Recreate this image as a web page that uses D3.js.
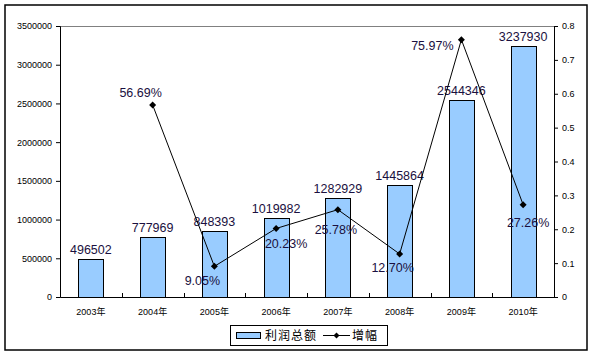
<!DOCTYPE html>
<html><head><meta charset="utf-8">
<script src="https://cdn.jsdelivr.net/npm/d3@7"></script>
<style>body{margin:0;background:#fff}svg{display:block}</style>
</head><body>
<script>
const years = ["2003年","2004年","2005年","2006年","2007年","2008年","2009年","2010年"];
const profit = [496502, 777969, 848393, 1019982, 1282929, 1445864, 2544346, 3237930];
const growth = [null, 0.5669, 0.0905, 0.2023, 0.2578, 0.1270, 0.7597, 0.2726];
const growthLabels = [null, "56.69%", "9.05%", "20.23%", "25.78%", "12.70%", "75.97%", "27.26%"];
const leftTicks = [0, 500000, 1000000, 1500000, 2000000, 2500000, 3000000, 3500000];
const rightTicks = [0, 0.1, 0.2, 0.3, 0.4, 0.5, 0.6, 0.7, 0.8];
const legendNames = ["利润总额", "增幅"];

// layout constants for percent label placement (dx from point to label centre, dy to baseline)
const pctOffsets = [null, [-12,-8], [-12,19], [10,20], [-2,24], [-7,18], [-29,10], [5,22]];

const W = 594, H = 357;
const svg = d3.select("body").append("svg").attr("width", W).attr("height", H);
const font = "'Liberation Sans', Arial, sans-serif";
const cjk = "'Liberation Sans', 'Noto Sans CJK SC', sans-serif";

svg.append("rect").attr("x",5).attr("y",5).attr("width",582).attr("height",345)
  .attr("fill","#fff").attr("stroke","#000").attr("stroke-width",1.5);

const L = 60, R = 554, T = 26, B = 297;
const x = d3.scaleBand().domain(years).range([L, R]).paddingInner(0).paddingOuter(0);
const y = d3.scaleLinear().domain([0, 3500000]).range([B, T]);
const y2 = d3.scaleLinear().domain([0, 0.8]).range([B, T]);

// top border of plot
svg.append("line").attr("x1",L).attr("x2",R).attr("y1",T+0.5).attr("y2",T+0.5).attr("stroke","#808080");

// bars
const bw = x.bandwidth()*0.405;
svg.append("g").selectAll("rect").data(profit).join("rect")
  .attr("x",(d,i)=>Math.round(x(years[i])+x.bandwidth()/2-bw/2)+0.5)
  .attr("y",d=>Math.round(y(d))+0.5)
  .attr("width",Math.round(bw))
  .attr("height",d=>B-Math.round(y(d)))
  .attr("fill","#99CCFF").attr("stroke","#000").attr("stroke-width",1);

// left axis
const gl = svg.append("g").attr("transform",`translate(${L},0)`)
  .call(d3.axisLeft(y).tickValues(leftTicks).tickFormat(d3.format("d")).tickSizeOuter(0).tickSize(4).tickPadding(4));
gl.select(".domain").attr("stroke","#000");
gl.selectAll("text").attr("font-family",font).attr("font-size",9).attr("fill","#000");

// right axis
const gr = svg.append("g").attr("transform",`translate(${R},0)`)
  .call(d3.axisRight(y2).tickValues(rightTicks).tickFormat(d=>d===0?"0":d3.format(".1f")(d)).tickSizeOuter(0).tickSize(4).tickPadding(4));
gr.selectAll("text").attr("font-family",font).attr("font-size",9).attr("fill","#000");

// bottom axis
const gb = svg.append("g").attr("transform",`translate(0,${B})`)
  .call(d3.axisBottom(x).tickSize(0).tickPadding(12));
gb.select(".domain").attr("stroke","#000");
gb.selectAll("text").attr("font-family",cjk).attr("font-size",9).attr("fill","#000");
// category boundary ticks (inside)
svg.append("g").selectAll("line").data(years.slice(1)).join("line")
  .attr("x1",d=>Math.round(x(d))+0.5).attr("x2",d=>Math.round(x(d))+0.5)
  .attr("y1",B).attr("y2",B-4).attr("stroke","#000");

// value labels
svg.append("g").selectAll("text").data(profit).join("text")
  .attr("x",(d,i)=>x(years[i])+x.bandwidth()/2)
  .attr("y",d=>y(d)-5)
  .attr("text-anchor","middle").attr("font-family",font).attr("font-size",12.5)
  .attr("fill","#1a1040").text(d=>d);

// growth line
const pts = growth.map((g,i)=>g==null?null:[x(years[i])+x.bandwidth()/2, y2(g), i]).filter(p=>p);
svg.append("path").attr("d",d3.line()(pts.map(p=>[p[0],p[1]])))
  .attr("fill","none").attr("stroke","#000").attr("stroke-width",1);
svg.append("g").selectAll("path").data(pts).join("path")
  .attr("transform",p=>`translate(${p[0]},${p[1]})`)
  .attr("d","M0,-3.5L3.5,0L0,3.5L-3.5,0Z").attr("fill","#000");

svg.append("g").selectAll("text").data(pts).join("text")
  .attr("x",p=>p[0]+pctOffsets[p[2]][0])
  .attr("y",p=>p[1]+pctOffsets[p[2]][1])
  .attr("text-anchor","middle").attr("font-family",font).attr("font-size",12.5)
  .attr("fill","#1a1040").text(p=>growthLabels[p[2]]);

// legend
const lg = svg.append("g");
lg.append("rect").attr("x",230.5).attr("y",325.5).attr("width",157).attr("height",20)
  .attr("fill","#fff").attr("stroke","#000");
lg.append("rect").attr("x",236.5).attr("y",332.5).attr("width",24).attr("height",6)
  .attr("fill","#99CCFF").attr("stroke","#000");
lg.append("text").attr("x",265).attr("y",340).attr("font-family","'Noto Sans CJK SC', sans-serif")
  .attr("font-size",12).attr("letter-spacing",1).attr("fill","#000").text(legendNames[0]);
lg.append("line").attr("x1",323).attr("x2",350).attr("y1",335.5).attr("y2",335.5).attr("stroke","#000");
lg.append("path").attr("transform","translate(336.5,335.5)").attr("d","M0,-3L3,0L0,3L-3,0Z").attr("fill","#000");
lg.append("text").attr("x",352).attr("y",340).attr("font-family","'Noto Sans CJK SC', sans-serif")
  .attr("font-size",12).attr("letter-spacing",1).attr("fill","#000").text(legendNames[1]);
</script>
</body></html>
